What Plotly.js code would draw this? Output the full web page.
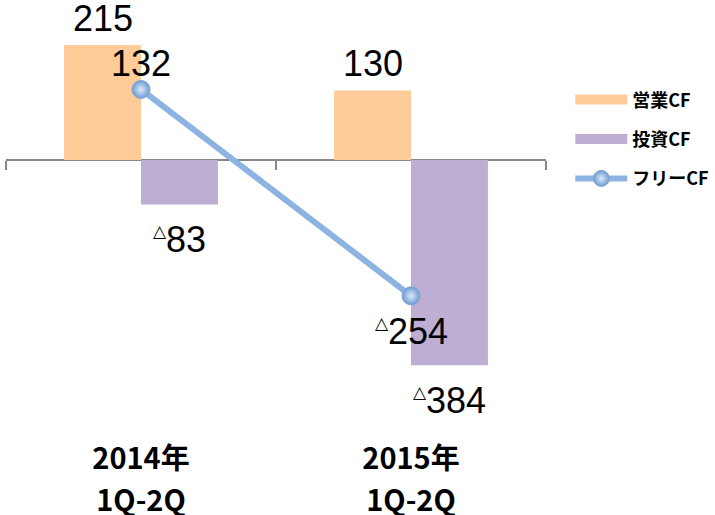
<!DOCTYPE html>
<html>
<head>
<meta charset="utf-8">
<script src="https://cdn.plot.ly/plotly-3.0.1.min.js"></script>
<style>html,body{margin:0;padding:0;background:#fff}#chart{width:715px;height:515px}</style>
</head>
<body>
<div id="chart"></div>
<script>
// ---- data ----
var categories = ['2014年<br>1Q-2Q', '2015年<br>1Q-2Q'];
var seriesNames = ['営業CF', '投資CF', 'フリーCF'];
var operatingCF = [215, 130];
var investingCF = [-83, -384];
var freeCF = [132, -254];

// ---- styling ----
var cOrange = '#FFCB99';
var cPurple = '#BEAED4';
var cBlue = '#8DB3E2';
var yRange = [-505, 280.6];
var barGap = 0.43;
var numFont = 'Liberation Sans, Arial, sans-serif';
var jpFont = 'Noto Sans CJK JP, sans-serif';

function fmt(v) {
  return v < 0 ? '<sup><span style="font-size:17px;font-family:DejaVu Sans">△</span></sup>' + (-v) : String(v);
}

var traces = [
  // legend swatches (no data)
  {type: 'scatter', x: [null], y: [null], mode: 'lines', name: seriesNames[0],
   line: {color: cOrange, width: 12}, legendrank: 1, legendgroup: 'a', hoverinfo: 'skip'},
  {type: 'scatter', x: [null], y: [null], mode: 'lines', name: seriesNames[1],
   line: {color: cPurple, width: 12}, legendrank: 2, legendgroup: 'b', hoverinfo: 'skip'},
  // bars
  {type: 'bar', x: categories, y: operatingCF, name: seriesNames[0], marker: {color: cOrange},
   showlegend: false, hoverinfo: 'skip'},
  {type: 'bar', x: categories, y: investingCF, name: seriesNames[1], marker: {color: cPurple},
   showlegend: false, hoverinfo: 'skip'},
  // line
  {type: 'scatter', x: categories, y: freeCF, name: seriesNames[2], mode: 'lines+markers',
   line: {color: cBlue, width: 6},
   marker: {size: 18, color: '#6E9BD2', gradient: {type: 'radial', color: '#DCE9F8'},
            line: {color: '#7DA5D8', width: 1}},
   legendrank: 3, legendgroup: 'c', hoverinfo: 'skip'},
  // zero axis carrier
  {type: 'scatter', x: categories, y: [null, null], xaxis: 'x2', showlegend: false, hoverinfo: 'skip'}
];

// bar geometry for label x offsets
var plotW = 540;
var catW = plotW / categories.length;
var barW = catW * (1 - barGap) / 2;

var annotations = [];
function addLabels(vals, dx, posShift, negShift) {
  vals.forEach(function (v, i) {
    annotations.push({
      x: categories[i], y: v, xref: 'x', yref: 'y', text: fmt(v), showarrow: false,
      xshift: dx, yshift: v >= 0 ? posShift : negShift, yanchor: 'middle',
      font: {family: numFont, size: 36, color: '#000'}
    });
  });
}
addLabels(operatingCF, -barW / 2, 27, -35);
addLabels(investingCF, barW / 2, 27, -35);
addLabels(freeCF, 0, 26, -36);

var zeroPos = (0 - yRange[0]) / (yRange[1] - yRange[0]);

// tick labels: larger line spacing, glyphs kept at 29px
var tickText = categories.map(function (c) {
  return c.split('<br>').map(function (s) { return '<span style="font-size:29px">' + s + '</span>'; }).join('<br>');
});

var layout = {
  width: 715, height: 515,
  margin: {l: 6, r: 169, t: 10, b: 85, autoexpand: false},
  paper_bgcolor: '#fff', plot_bgcolor: 'rgba(0,0,0,0)',
  barmode: 'group', bargap: barGap, bargroupgap: 0,
  showlegend: true,
  xaxis: {type: 'category', range: [-0.5, 1.5], showline: false, ticks: '', showgrid: false,
          zeroline: false, ticklabelstandoff: 6, tickvals: categories, ticktext: tickText,
          automargin: false,
          tickfont: {family: jpFont, size: 32, color: '#000', weight: 'bold'}},
  xaxis2: {type: 'category', overlaying: 'x', anchor: 'free', position: zeroPos, side: 'bottom',
           range: [-0.5, 1.5], showline: true, linecolor: '#878787', linewidth: 2,
           ticks: 'outside', tickson: 'boundaries', ticklen: 9, tickwidth: 2, tickcolor: '#878787',
           showticklabels: false, showgrid: false, zeroline: false, layer: 'below traces'},
  yaxis: {range: yRange, visible: false, showgrid: false, zeroline: false},
  legend: {x: 1.045, xanchor: 'left', y: 0.83, yanchor: 'top', traceorder: 'grouped',
           tracegroupgap: 13, itemwidth: 52, bgcolor: 'rgba(0,0,0,0)',
           font: {family: jpFont, size: 18, color: '#000', weight: 'bold'}},
  annotations: annotations
};

Plotly.newPlot('chart', traces, layout, {displayModeBar: false, staticPlot: true});
</script>
</body>
</html>
